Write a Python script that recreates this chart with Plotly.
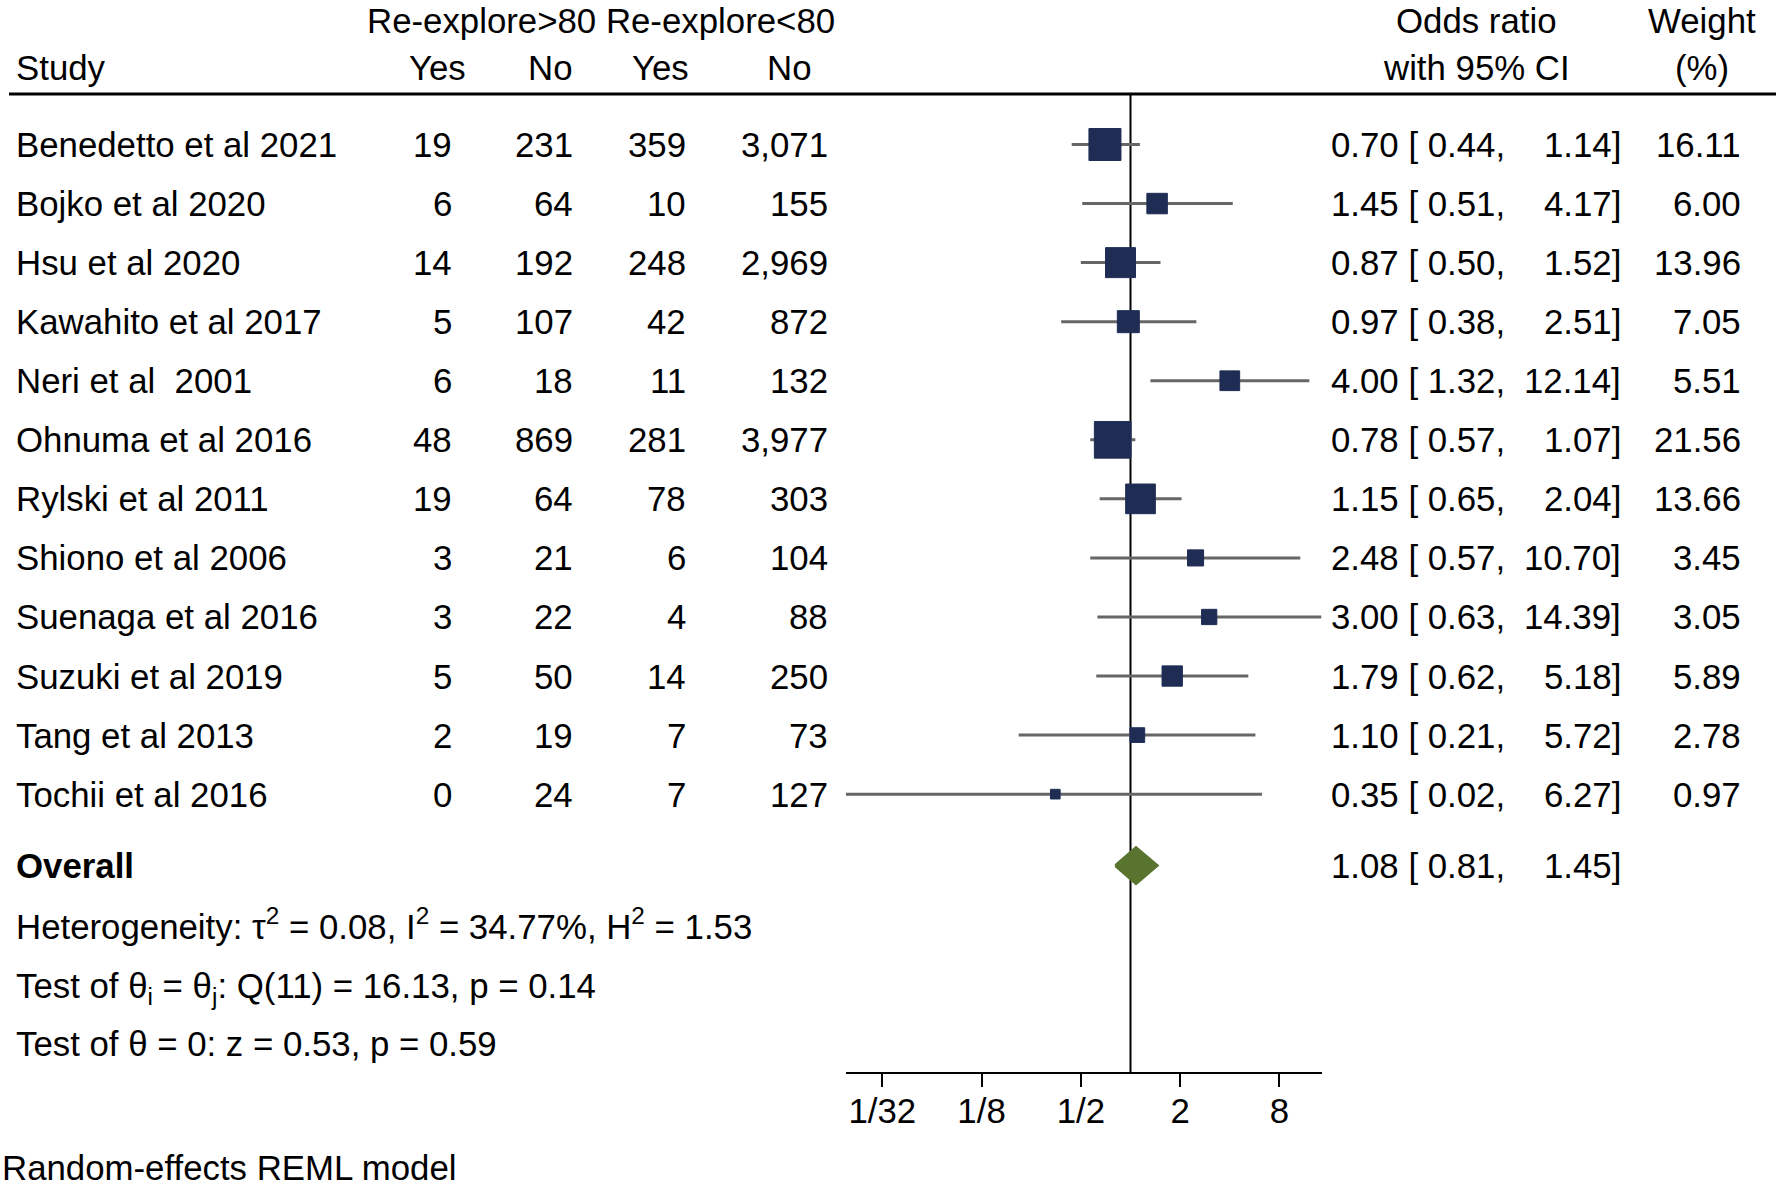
import math
import plotly.graph_objects as go

# ---------------- data ----------------
studies = ["Benedetto et al 2021", "Bojko et al 2020", "Hsu et al 2020", "Kawahito et al 2017",
           "Neri et al  2001", "Ohnuma et al 2016", "Rylski et al 2011", "Shiono et al 2006",
           "Suenaga et al 2016", "Suzuki et al 2019", "Tang et al 2013", "Tochii et al 2016"]
yes_gt80 = [19, 6, 14, 5, 6, 48, 19, 3, 3, 5, 2, 0]
no_gt80 = [231, 64, 192, 107, 18, 869, 64, 21, 22, 50, 19, 24]
yes_lt80 = [359, 10, 248, 42, 11, 281, 78, 6, 4, 14, 7, 7]
no_lt80 = [3071, 155, 2969, 872, 132, 3977, 303, 104, 88, 250, 73, 127]
odds = [0.70, 1.45, 0.87, 0.97, 4.00, 0.78, 1.15, 2.48, 3.00, 1.79, 1.10, 0.35]
ci_low = [0.44, 0.51, 0.50, 0.38, 1.32, 0.57, 0.65, 0.57, 0.63, 0.62, 0.21, 0.0188]
ci_high = [1.14, 4.17, 1.52, 2.51, 12.14, 1.07, 2.04, 10.70, 14.39, 5.18, 5.72, 6.27]
weights = [16.11, 6.00, 13.96, 7.05, 5.51, 21.56, 13.66, 3.45, 3.05, 5.89, 2.78, 0.97]

overall = {"or": 1.08, "lo": 0.81, "hi": 1.45}
tick_vals = [1/32, 1/8, 1/2, 2, 8]
tick_text = ["1/32", "1/8", "1/2", "2", "8"]

header_top = "Re-explore>80 Re-explore<80"
col_titles = ["Yes", "No", "Yes", "No"]
het_text = "Heterogeneity: τ<sup>2</sup> = 0.08, I<sup>2</sup> = 34.77%, H<sup>2</sup> = 1.53"
q_text = "Test of θ<sub>i</sub> = θ<sub>j</sub>: Q(11) = 16.13, p = 0.14"
z_text = "Test of θ = 0: z = 0.53, p = 0.59"
model_text = "Random-effects REML model"

# ---------------- layout constants ----------------
W, H = 1776, 1180
FONT = "Liberation Sans, Arial, Helvetica, sans-serif"
FS = 34.8
NAVY = "#1f2d55"
GREEN = "#58742f"
GREY = "#666666"

row0_px, row_step = 144.5, 59.06
def px_to_row(p):
    return (p - row0_px) / row_step
def px_to_paper_y(p):
    return 1 - p / H
def px_to_paper_x(p):
    return p / W

rows = list(range(len(studies)))
r_overall = 12.21
r_het, r_q, r_z = 13.19, 14.28, 15.23

fig = go.Figure()

# CI lines
xs, ys = [], []
for r, l, h in zip(rows, ci_low, ci_high):
    xs += [l, h, None]
    ys += [r, r, None]
fig.add_trace(go.Scatter(x=xs, y=ys, mode="lines", line=dict(color=GREY, width=3),
                         hoverinfo="skip", showlegend=False))

# study squares (area ~ weight)
sizes = [2.4 + 7.38 * math.sqrt(w) for w in weights]
fig.add_trace(go.Scatter(x=odds, y=rows, mode="markers",
                         marker=dict(symbol="square", size=sizes, color=NAVY, opacity=1,
                                     line=dict(color=NAVY, width=1)),
                         showlegend=False))

# overall diamond
hd = 0.305
fig.add_trace(go.Scatter(
    x=[overall["lo"], overall["or"], overall["hi"], overall["or"], overall["lo"]],
    y=[r_overall, r_overall - hd, r_overall, r_overall + hd, r_overall],
    mode="lines", fill="toself", fillcolor=GREEN,
    line=dict(color=GREEN, width=3), showlegend=False, hoverinfo="skip"))

# ---------------- axes ----------------
lo_all = min(ci_low)
hi_all = max(ci_high)
one_px, px_per_log2 = 1130.5, 49.65
x_left_px = one_px + math.log2(lo_all) * px_per_log2
x_right_px = one_px + math.log2(hi_all) * px_per_log2
axis_px = 1073
top_line_px = 94

fig.update_xaxes(type="log", range=[math.log10(lo_all), math.log10(hi_all)],
                 domain=[px_to_paper_x(x_left_px), px_to_paper_x(x_right_px)],
                 anchor="free", position=px_to_paper_y(axis_px),
                 showline=True, linecolor="black", linewidth=2,
                 ticks="outside", ticklen=13, tickwidth=2, tickcolor="black",
                 tickvals=tick_vals, ticktext=tick_text, ticklabelstandoff=-6,
                 tickfont=dict(family=FONT, size=FS, color="black"),
                 showgrid=False, zeroline=False)
fig.update_yaxes(range=[px_to_row(H), px_to_row(0)], domain=[0, 1], visible=False,
                 showgrid=False, zeroline=False)

shapes = [
    dict(type="line", xref="x", yref="paper", x0=1, x1=1,
         y0=px_to_paper_y(axis_px), y1=px_to_paper_y(top_line_px),
         line=dict(color="black", width=2), layer="below"),
    dict(type="line", xref="paper", yref="paper", x0=px_to_paper_x(9), x1=1,
         y0=px_to_paper_y(top_line_px), y1=px_to_paper_y(top_line_px),
         line=dict(color="black", width=3)),
]

ann = []
def txt(x, y, s, anchor="left", yref="y", bold=False):
    ann.append(dict(x=x, y=y, xref="paper", yref=yref, text=("<b>%s</b>" % s) if bold else s,
                    showarrow=False, xanchor=anchor, yanchor="middle",
                    font=dict(family=FONT, size=FS, color="black")))

LX = 14  # left text start
# headers
txt(px_to_paper_x(600.5), px_to_paper_y(20.5), header_top, "center", "paper")
txt(px_to_paper_x(LX), px_to_paper_y(68), "Study", "left", "paper")
for cx, t in zip([437, 550, 660, 789], col_titles):
    txt(px_to_paper_x(cx), px_to_paper_y(68), t, "center", "paper")
txt(px_to_paper_x(1476), px_to_paper_y(20.5), "Odds ratio", "center", "paper")
txt(px_to_paper_x(1476), px_to_paper_y(68), "with 95% CI", "center", "paper")
txt(px_to_paper_x(1702), px_to_paper_y(20.5), "Weight", "center", "paper")
txt(px_to_paper_x(1702), px_to_paper_y(68), "(%)", "center", "paper")

col_right = [454, 575, 688, 830]
for i, r in enumerate(rows):
    txt(px_to_paper_x(LX), r, studies[i])
    for cr, vals in zip(col_right, [yes_gt80, no_gt80, yes_lt80, no_lt80]):
        txt(px_to_paper_x(cr), r, f"{vals[i]:,}", "right")
    txt(px_to_paper_x(1329), r, f"{odds[i]:.2f} [ {ci_low[i]:.2f},")
    txt(px_to_paper_x(1623), r, f"{ci_high[i]:.2f}]", "right")
    txt(px_to_paper_x(1743), r, f"{weights[i]:.2f}", "right")

txt(px_to_paper_x(LX), r_overall, "Overall", bold=True)
txt(px_to_paper_x(1329), r_overall, f"{overall['or']:.2f} [ {overall['lo']:.2f},")
txt(px_to_paper_x(1623), r_overall, f"{overall['hi']:.2f}]", "right")
txt(px_to_paper_x(LX), r_het, het_text)
txt(px_to_paper_x(LX), r_q, q_text)
txt(px_to_paper_x(LX), r_z, z_text)
txt(0, px_to_paper_y(1167), model_text, "left", "paper")

fig.update_layout(width=W, height=H, margin=dict(l=0, r=0, t=0, b=0),
                  paper_bgcolor="white", plot_bgcolor="white",
                  shapes=shapes, annotations=ann, showlegend=False,
                  font=dict(family=FONT, size=FS, color="black"))

fig.write_html("out.html", config={"displayModeBar": False},
               post_script="document.body.style.margin='0';")
